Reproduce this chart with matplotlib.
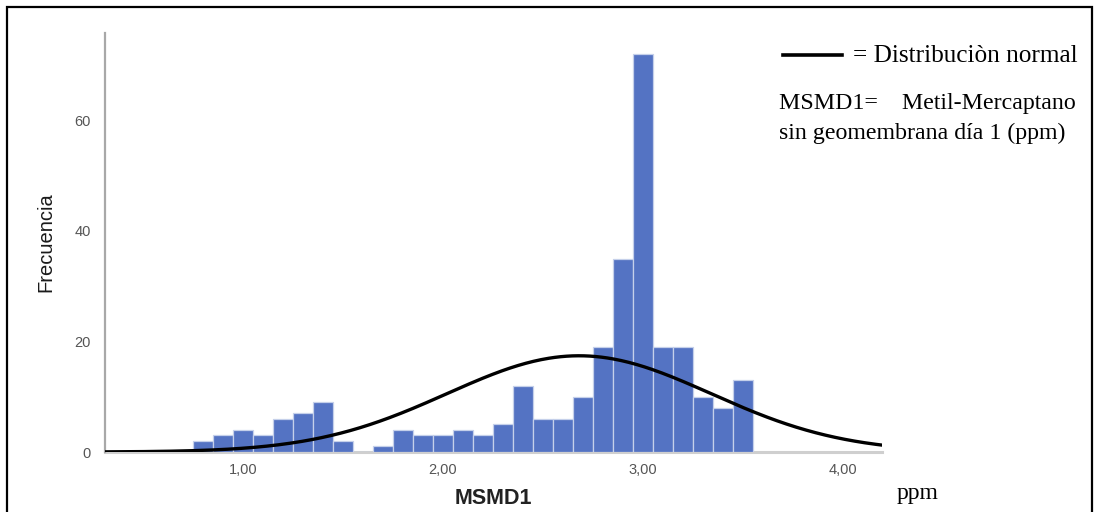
import numpy as np
import matplotlib
matplotlib.use("Agg")
import matplotlib.pyplot as plt
from matplotlib.patches import Rectangle

# ---- data ----
bin_centers = [0.8, 0.9, 1.0, 1.1, 1.2, 1.3, 1.4, 1.5, 1.6, 1.7, 1.8, 1.9, 2.0, 2.1,
               2.2, 2.3, 2.4, 2.5, 2.6, 2.7, 2.8, 2.9, 3.0, 3.1, 3.2, 3.3, 3.4, 3.5]
counts = [2, 3, 4, 3, 6, 7, 9, 2, 0, 1, 4, 3, 3, 4,
          3, 5, 12, 6, 6, 10, 19, 35, 72, 19, 19, 10, 8, 13]
bin_width = 0.1
normal_mean = 2.68
normal_sd = 0.66
x_ticks = [1.0, 2.0, 3.0, 4.0]
x_tick_labels = ["1,00", "2,00", "3,00", "4,00"]
y_ticks = [0, 20, 40, 60]
y_tick_labels = ["0", "20", "40", "60"]

W, H = 1099, 512
fig = plt.figure(figsize=(W / 100, H / 100), dpi=100)
fig.patch.set_facecolor("white")

def fx(px):
    return px / W

def fy(py):
    return 1 - py / H

# outer frame (bottom edge runs off the picture)
fig.patches.append(Rectangle((fx(7), fy(530)), fx(1092) - fx(7), fy(7) - fy(530),
                             transform=fig.transFigure, fill=False,
                             edgecolor="black", linewidth=1.6, zorder=0))

ax = fig.add_axes([fx(105), fy(452), fx(882) - fx(105), fy(33) - fy(452)])
ax.bar(bin_centers, counts, width=bin_width, color="#5473C3",
       edgecolor="#c5d0ea", linewidth=0.9, zorder=2)

N = sum(counts)
xs = np.linspace(0.31, 4.195, 400)
ys = N * bin_width * np.exp(-0.5 * ((xs - normal_mean) / normal_sd) ** 2) / (normal_sd * np.sqrt(2 * np.pi))
ax.plot(xs, ys, color="black", linewidth=2.4, zorder=3)

ax.set_xlim(0.31, 4.195)
ax.set_ylim(0, 75.8)
for s in ["top", "right"]:
    ax.spines[s].set_visible(False)
ax.spines["left"].set_color("#a8a8a8")
ax.spines["left"].set_linewidth(1.6)
ax.spines["bottom"].set_color("#cfcfcf")
ax.spines["bottom"].set_linewidth(2.2)
ax.spines["bottom"].set_zorder(1)

ax.set_xticks(x_ticks)
ax.set_xticklabels(x_tick_labels)
ax.set_yticks(y_ticks)
ax.set_yticklabels(y_tick_labels)
ax.tick_params(axis="both", length=0, labelsize=10.5, labelcolor="#555555",
               labelfontfamily="Liberation Sans")
ax.tick_params(axis="x", pad=8)
ax.tick_params(axis="y", pad=10)

ax.set_ylabel("Frecuencia", fontsize=14.5, color="#1a1a1a", family="Liberation Sans",
              fontweight="medium", labelpad=14)
ax.set_xlabel("MSMD1", fontsize=15.5, fontweight="bold", color="#222222",
              family="Liberation Sans", labelpad=8)

# annotation legend (outside axes)
fig.add_artist(plt.Line2D([fx(783), fx(842)], [fy(55), fy(55)], color="black",
                          linewidth=2.6, transform=fig.transFigure))
fig.text(fx(853), fy(56), "= Distribuciòn normal", family="Liberation Serif",
         fontsize=18.2, va="center", ha="left")
fig.text(fx(779), fy(104), "MSMD1=    Metil-Mercaptano", family="Liberation Serif",
         fontsize=17.2, va="center", ha="left")
fig.text(fx(779), fy(133), "sin geomembrana día 1 (ppm)", family="Liberation Serif",
         fontsize=17.2, va="center", ha="left")
fig.text(fx(897), fy(494), "ppm", family="Liberation Serif",
         fontsize=17, va="center", ha="left")

fig.savefig("out.png", dpi=100, facecolor="white")
